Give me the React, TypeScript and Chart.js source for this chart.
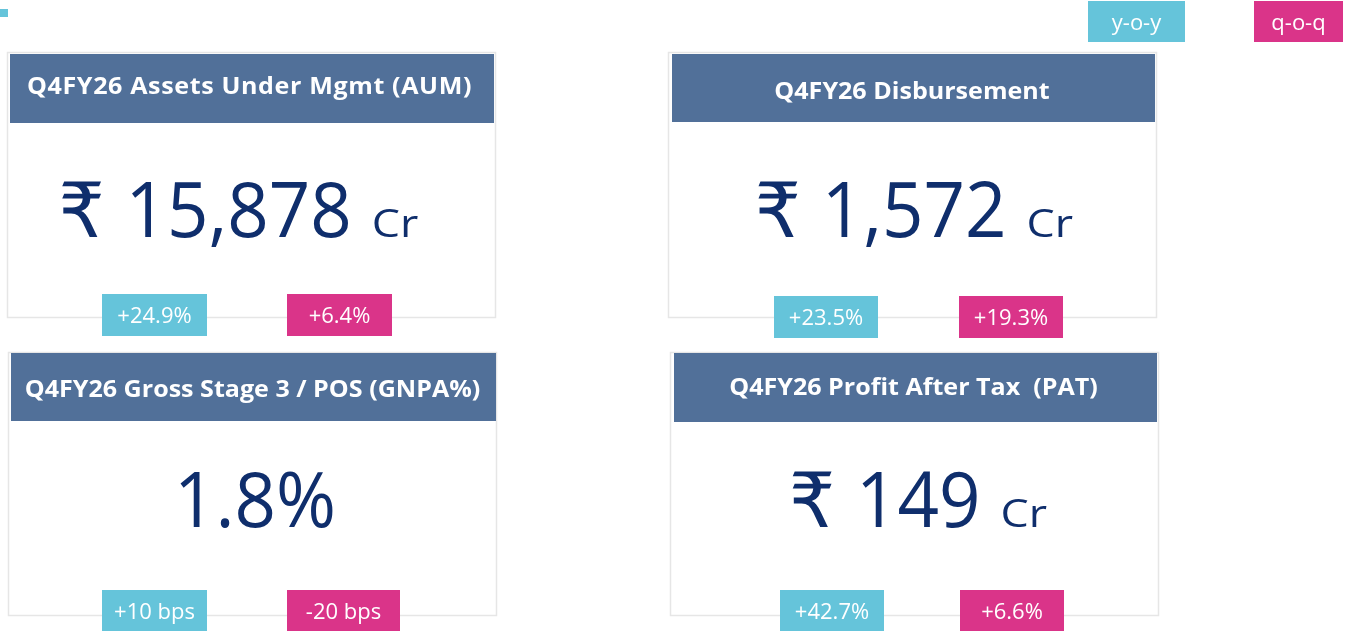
import React, { useEffect, useRef } from "react";
import { Chart, registerables } from "chart.js";

Chart.register(...registerables);

// ---- data ----
const titles = [
  "Q4FY26 Assets Under Mgmt (AUM)",
  "Q4FY26 Disbursement",
  "Q4FY26 Gross Stage 3 / POS (GNPA%)",
  "Q4FY26 Profit After Tax  (PAT)",
];
const prefixes = ["₹", "₹", "", "₹"];
const values = ["15,878", "1,572", "1.8%", "149"];
const units = ["Cr", "Cr", "", "Cr"];
const yoyChanges = ["+24.9%", "+23.5%", "+10 bps", "+42.7%"];
const qoqChanges = ["+6.4%", "+19.3%", "-20 bps", "+6.6%"];
const legendLabels = ["y-o-y", "q-o-q"];

// ---- layout / styles ----
const W = 1357;
const H = 631;
const COL_YOY = "#65c4da";
const COL_QOQ = "#da3489";
const COL_HEAD = "#517099";
const COL_VALUE = "#0f2e6c";
const COL_BORDER = "#e6e6e6";
const FONT = "'Open Sans', 'DejaVu Sans', sans-serif";

const cardBoxes = [
  [7.5, 52.5, 495.5, 317.5],
  [668.5, 52.5, 1156.5, 317.5],
  [8.5, 352.5, 496.5, 615.5],
  [670.5, 352.5, 1158.5, 615.5],
];
const headBoxes = [
  [10, 54, 494, 123],
  [672, 54, 1155, 122],
  [11, 353, 496, 421],
  [674, 353, 1157, 422],
];
const titleCenters = [249.5, 912, 252.5, 913.5];
const titleBaselines = [94, 99, 397, 395];
const titleSpacing = [0.57, 0, 0, 0];
const valueCenters = [238.5, 914, 255, 918];
const valueBaselines = [237, 237, 527, 527];
const yoyBoxes = [
  [102, 294, 207, 336],
  [774, 296, 878, 338],
  [102, 590, 207, 631],
  [780, 590, 884, 631],
];
const qoqBoxes = [
  [287, 294, 392, 336],
  [959, 296, 1063, 338],
  [287, 590, 400, 631],
  [960, 590, 1064, 631],
];
const legendBoxes = [
  [1088, 1, 1185, 42],
  [1254, 1, 1343, 42],
];

const BIG = 76;
const BIG_SX = 0.955;
const UNIT = 38;
const UNIT_SX = 1.18;
const TITLE = 23;
const TITLE_SX = 1.09;
const UNIT_GAP = 20;

const cardsPlugin = {
  id: "kpiCards",
  afterDraw(chart: any) {
    const ctx: CanvasRenderingContext2D = chart.ctx;
    const xs = chart.scales.x;
    const ys = chart.scales.y;
    const px = (v: number) => xs.getPixelForValue(v);
    const py = (v: number) => ys.getPixelForValue(v);

    const rect = (b: number[], fill: string) => {
      ctx.fillStyle = fill;
      ctx.fillRect(px(b[0]), py(b[1]), px(b[2]) - px(b[0]), py(b[3]) - py(b[1]));
    };
    const badge = (b: number[], fill: string, text: string) => {
      rect(b, fill);
      ctx.fillStyle = "#ffffff";
      ctx.font = `400 22px ${FONT}`;
      ctx.textAlign = "center";
      ctx.textBaseline = "alphabetic";
      ctx.fillText(text, px((b[0] + b[2]) / 2), py((b[1] + b[3]) / 2) + 8);
    };
    const scaledText = (text: string, x: number, y: number, sx: number) => {
      ctx.save();
      ctx.translate(x, y);
      ctx.scale(sx, 1);
      ctx.fillText(text, 0, 0);
      ctx.restore();
    };

    ctx.save();
    rect([0, 9, 8, 17], COL_YOY);

    badge(legendBoxes[0], COL_YOY, legendLabels[0]);
    badge(legendBoxes[1], COL_QOQ, legendLabels[1]);

    for (let i = 0; i < titles.length; i++) {
      const cb = cardBoxes[i];
      ctx.strokeStyle = COL_BORDER;
      ctx.lineWidth = 1.5;
      ctx.strokeRect(px(cb[0]), py(cb[1]), px(cb[2]) - px(cb[0]), py(cb[3]) - py(cb[1]));

      const hb = headBoxes[i];
      rect(hb, COL_HEAD);
      ctx.fillStyle = "#ffffff";
      ctx.font = `700 ${TITLE}px ${FONT}`;
      (ctx as any).letterSpacing = `${titleSpacing[i]}px`;
      ctx.textAlign = "center";
      ctx.textBaseline = "alphabetic";
      scaledText(titles[i], px(titleCenters[i]), py(titleBaselines[i]), TITLE_SX);
      (ctx as any).letterSpacing = "0px";

      // big value: prefix, value, unit
      ctx.textAlign = "left";
      ctx.textBaseline = "alphabetic";
      ctx.fillStyle = COL_VALUE;
      ctx.font = `400 ${BIG}px ${FONT}`;
      const wPre = prefixes[i] ? ctx.measureText(prefixes[i]).width * BIG_SX : 0;
      const gap1 = prefixes[i] ? ctx.measureText(" ").width * BIG_SX + 2 : 0;
      const wVal = ctx.measureText(values[i]).width * BIG_SX;
      ctx.font = `400 ${UNIT}px ${FONT}`;
      const wUnit = units[i] ? ctx.measureText(units[i]).width * UNIT_SX : 0;
      const gap2 = units[i] ? UNIT_GAP : 0;
      const total = wPre + gap1 + wVal + gap2 + wUnit;
      let x = px(valueCenters[i]) - total / 2;
      const by = py(valueBaselines[i]);
      ctx.font = `400 ${BIG}px ${FONT}`;
      if (prefixes[i]) {
        scaledText(prefixes[i], x, by, BIG_SX);
        x += wPre + gap1;
      }
      scaledText(values[i], x, by, BIG_SX);
      x += wVal + gap2;
      if (units[i]) {
        ctx.font = `400 ${UNIT}px ${FONT}`;
        scaledText(units[i], x, by, UNIT_SX);
      }

      badge(yoyBoxes[i], COL_YOY, yoyChanges[i]);
      badge(qoqBoxes[i], COL_QOQ, qoqChanges[i]);
    }
    ctx.restore();
  },
};

export default function App() {
  const ref = useRef<HTMLCanvasElement | null>(null);
  useEffect(() => {
    if (!ref.current) return;
    const chart = new Chart(ref.current, {
      type: "scatter",
      data: { datasets: [{ data: [], pointRadius: 0 }] },
      options: {
        animation: false,
        responsive: false,
        maintainAspectRatio: false,
        devicePixelRatio: 1,
        layout: { padding: 0 },
        plugins: { legend: { display: false }, tooltip: { enabled: false } },
        scales: {
          x: { type: "linear", min: 0, max: W, display: false },
          y: { type: "linear", min: 0, max: H, reverse: true, display: false },
        },
      },
      plugins: [cardsPlugin],
    });
    return () => chart.destroy();
  }, []);
  return (
    <div style={{ position: "fixed", left: 0, top: 0, width: W, height: H, background: "#fff" }}>
      <canvas ref={ref} width={W} height={H} style={{ width: W, height: H, display: "block" }} />
    </div>
  );
}
